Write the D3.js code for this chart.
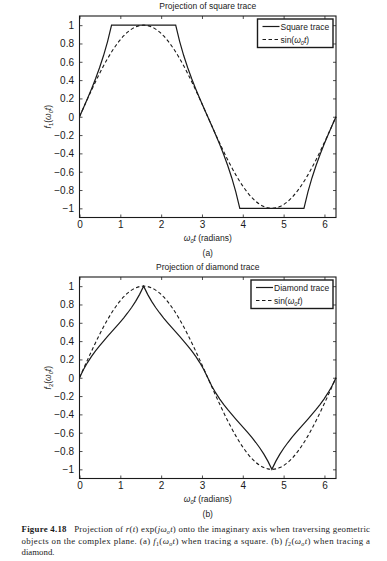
<!DOCTYPE html>
<html>
<head>
<meta charset="utf-8">
<script src="https://cdn.jsdelivr.net/npm/d3@7"></script>
<style>
  body { margin: 0; background: #fff; }
  svg { display: block; }
  text { fill: #1a1a1a; }
</style>
</head>
<body>
<div id="chart"></div>
<script>
// sample angles (radians), read along the x axis
const xGrid = [
  0, 0.0982, 0.1963, 0.2945, 0.3927, 0.4909, 0.589, 0.6872, 0.7854, 0.8836, 0.9817,
  1.0799, 1.1781, 1.2763, 1.3744, 1.4726, 1.5708, 1.669, 1.7671, 1.8653, 1.9635,
  2.0617, 2.1598, 2.258, 2.3562, 2.4544, 2.5525, 2.6507, 2.7489, 2.8471, 2.9452,
  3.0434, 3.1416, 3.2398, 3.3379, 3.4361, 3.5343, 3.6325, 3.7306, 3.8288, 3.927,
  4.0252, 4.1233, 4.2215, 4.3197, 4.4179, 4.516, 4.6142, 4.7124, 4.8106, 4.9087,
  5.0069, 5.1051, 5.2033, 5.3014, 5.3996, 5.4978, 5.596, 5.6941, 5.7923, 5.8905,
  5.9887, 6.0868, 6.185, 6.2832,
];

const squareTrace = [
  0, 0.0985, 0.1989, 0.3033, 0.4142, 0.5345, 0.6682, 0.8207, 1,
  1, 1, 1, 1, 1, 1, 1, 1, 1, 1, 1, 1, 1, 1, 1, 1,
  0.8207, 0.6682, 0.5345, 0.4142, 0.3033, 0.1989, 0.0985, 0,
  -0.0985, -0.1989, -0.3033, -0.4142, -0.5345, -0.6682, -0.8207, -1,
  -1, -1, -1, -1, -1, -1, -1, -1, -1, -1, -1, -1, -1, -1, -1, -1,
  -0.8207, -0.6682, -0.5345, -0.4142, -0.3033, -0.1989, -0.0985, 0,
];

const diamondTrace = [
  0, 0.0896, 0.1659, 0.2328, 0.2929, 0.3483, 0.4005, 0.4508, 0.5,
  0.5492, 0.5995, 0.6517, 0.7071, 0.7672, 0.8341, 0.9104, 1,
  0.9104, 0.8341, 0.7672, 0.7071, 0.6517, 0.5995, 0.5492, 0.5,
  0.4508, 0.4005, 0.3483, 0.2929, 0.2328, 0.1659, 0.0896, 0,
  -0.0896, -0.1659, -0.2328, -0.2929, -0.3483, -0.4005, -0.4508, -0.5,
  -0.5492, -0.5995, -0.6517, -0.7071, -0.7672, -0.8341, -0.9104, -1,
  -0.9104, -0.8341, -0.7672, -0.7071, -0.6517, -0.5995, -0.5492, -0.5,
  -0.4508, -0.4005, -0.3483, -0.2929, -0.2328, -0.1659, -0.0896, 0,
];

const sineRef = [
  0, 0.098, 0.1951, 0.2903, 0.3827, 0.4714, 0.5556, 0.6344, 0.7071,
  0.773, 0.8315, 0.8819, 0.9239, 0.9569, 0.9808, 0.9952, 1,
  0.9952, 0.9808, 0.9569, 0.9239, 0.8819, 0.8315, 0.773, 0.7071,
  0.6344, 0.5556, 0.4714, 0.3827, 0.2903, 0.1951, 0.098, 0,
  -0.098, -0.1951, -0.2903, -0.3827, -0.4714, -0.5556, -0.6344, -0.7071,
  -0.773, -0.8315, -0.8819, -0.9239, -0.9569, -0.9808, -0.9952, -1,
  -0.9952, -0.9808, -0.9569, -0.9239, -0.8819, -0.8315, -0.773, -0.7071,
  -0.6344, -0.5556, -0.4714, -0.3827, -0.2903, -0.1951, -0.098, 0,
];

const xTicks = [0, 1, 2, 3, 4, 5, 6];
const yTicks = [-1, -0.8, -0.6, -0.4, -0.2, 0, 0.2, 0.4, 0.6, 0.8, 1];

const width = 387;
const height = 561;
const left = 79.5;
const right = 336;
const plotHeight = 201.5;
const sansFont = "'Liberation Sans', Arial, sans-serif";
const serifFont = "'Liberation Serif', 'Times New Roman', serif";

const svg = d3
  .select("#chart")
  .append("svg")
  .attr("width", width)
  .attr("height", height);

const x = d3.scaleLinear().domain([0, 2 * Math.PI]).range([left, right]);

const panels = [
  {
    top: 16,
    title: "Projection of square trace",
    values: squareTrace,
    name: "Square trace",
    sub: "1",
    tag: "(a)",
    legendX: 257.5,
    legendW: 75.5,
  },
  {
    top: 277,
    title: "Projection of diamond trace",
    values: diamondTrace,
    name: "Diamond trace",
    sub: "2",
    tag: "(b)",
    legendX: 251,
    legendW: 82,
  },
];

panels.forEach(drawPanel);
drawCaption();

function drawPanel(p) {
  const bottom = p.top + plotHeight;
  const y = d3.scaleLinear().domain([-1.1, 1.1]).range([bottom, p.top]);
  const g = svg.append("g").attr("font-family", sansFont).attr("font-size", 8.5);

  // ticks on all four sides, pointing inward
  const bottomAxis = g
    .append("g")
    .attr("transform", `translate(0,${bottom})`)
    .call(d3.axisBottom(x).tickValues(xTicks).tickSizeInner(-3).tickSizeOuter(0).tickFormat(d3.format("d")));
  bottomAxis.selectAll("text").attr("y", 10.5).attr("dy", 0);

  g.append("g")
    .attr("transform", `translate(0,${p.top})`)
    .call(d3.axisTop(x).tickValues(xTicks).tickSizeInner(-3).tickSizeOuter(0).tickFormat(""));

  const leftAxis = g
    .append("g")
    .attr("transform", `translate(${left},0)`)
    .call(d3.axisLeft(y).tickValues(yTicks).tickSizeInner(-3).tickSizeOuter(0).tickFormat(d3.format("~g")));
  leftAxis.selectAll("text").attr("x", -5.5).attr("dy", "0.35em");

  g.append("g")
    .attr("transform", `translate(${right},0)`)
    .call(d3.axisRight(y).tickValues(yTicks).tickSizeInner(-3).tickSizeOuter(0).tickFormat(""));

  g.selectAll(".domain").remove();
  g.selectAll(".tick line").attr("stroke", "#222").attr("stroke-width", 0.8);
  g.selectAll(".tick text").attr("fill", "#1a1a1a");

  g.append("rect")
    .attr("x", left)
    .attr("y", p.top)
    .attr("width", right - left)
    .attr("height", plotHeight)
    .attr("fill", "none")
    .attr("stroke", "#1a1a1a")
    .attr("stroke-width", 1.1);

  const sineLine = d3
    .line()
    .x((d, i) => x(xGrid[i]))
    .y((d) => y(d))
    .curve(d3.curveCatmullRom);

  const traceLine = d3
    .line()
    .x((d, i) => x(xGrid[i]))
    .y((d) => y(d));

  g.append("path")
    .attr("d", sineLine(sineRef))
    .attr("fill", "none")
    .attr("stroke", "#1a1a1a")
    .attr("stroke-width", 1.1)
    .attr("stroke-dasharray", "3.5,2.5");

  g.append("path")
    .attr("d", traceLine(p.values))
    .attr("fill", "none")
    .attr("stroke", "#1a1a1a")
    .attr("stroke-width", 1.2);

  // title
  g.append("text")
    .attr("x", (left + right) / 2)
    .attr("y", p.top - 7)
    .attr("text-anchor", "middle")
    .text(p.title);

  // x label
  const xl = g
    .append("text")
    .attr("x", (left + right) / 2)
    .attr("y", bottom + 23.5)
    .attr("text-anchor", "middle");
  addOmegaT(xl, "0");
  xl.append("tspan").text(" (radians)");

  g.append("text")
    .attr("x", (left + right) / 2)
    .attr("y", bottom + 38.5)
    .attr("text-anchor", "middle")
    .text(p.tag);

  // y label
  const yl = g
    .append("text")
    .attr("transform", `translate(50.5,${(p.top + bottom) / 2}) rotate(-90)`)
    .attr("text-anchor", "middle");
  yl.append("tspan").attr("font-style", "italic").text("f");
  yl.append("tspan").attr("font-size", 6).attr("dy", 2).text(p.sub);
  yl.append("tspan").attr("dy", -2).text("(");
  addOmegaT(yl, "0");
  yl.append("tspan").text(")");

  // legend
  const ly = p.top + (p.top < 100 ? 3 : 3);
  const legend = g.append("g").attr("transform", `translate(${p.legendX},${ly})`);
  legend
    .append("rect")
    .attr("width", p.legendW)
    .attr("height", 28.5)
    .attr("fill", "#fff")
    .attr("stroke", "#1a1a1a")
    .attr("stroke-width", 1.4);

  legend
    .append("line")
    .attr("x1", 5)
    .attr("x2", 22)
    .attr("y1", 7.5)
    .attr("y2", 7.5)
    .attr("stroke", "#1a1a1a")
    .attr("stroke-width", 1.2);
  legend.append("text").attr("x", 23).attr("y", 10.6).text(p.name);

  legend
    .append("line")
    .attr("x1", 5)
    .attr("x2", 22)
    .attr("y1", 20.5)
    .attr("y2", 20.5)
    .attr("stroke", "#1a1a1a")
    .attr("stroke-width", 1.1)
    .attr("stroke-dasharray", "3.5,2.5");
  const sl = legend.append("text").attr("x", 23).attr("y", 23.6);
  sl.append("tspan").text("sin(");
  addOmegaT(sl, "0");
  sl.append("tspan").text(")");
}

function addOmegaT(textSel, sub) {
  textSel.append("tspan").attr("font-style", "italic").text("ω");
  textSel.append("tspan").attr("font-size", 5.5).attr("font-style", "italic").attr("dy", 2).text(sub);
  textSel.append("tspan").attr("font-style", "italic").attr("dy", -2).text("t");
}

function drawCaption() {
  const g = svg.append("g").attr("font-family", serifFont).attr("font-size", 8.8);
  const lineX = 21.5;
  const lineEnd = 370;

  const l1 = g.append("text").attr("x", lineX).attr("y", 532).attr("textLength", lineEnd - lineX).attr("lengthAdjust", "spacing");
  l1.append("tspan").attr("font-weight", "bold").text("Figure 4.18");
  l1.append("tspan").attr("xml:space", "preserve").text("\u00a0\u00a0\u00a0Projection of ");
  l1.append("tspan").attr("font-style", "italic").text("r");
  l1.append("tspan").text("(");
  l1.append("tspan").attr("font-style", "italic").text("t");
  l1.append("tspan").text(") exp(");
  l1.append("tspan").attr("font-style", "italic").text("jω");
  l1.append("tspan").attr("font-style", "italic").attr("font-size", 6).attr("dy", 2).text("o");
  l1.append("tspan").attr("font-style", "italic").attr("dy", -2).text("t");
  l1.append("tspan").text(") onto the imaginary axis when traversing geometric");

  const l2 = g.append("text").attr("x", lineX).attr("y", 543.5).attr("textLength", lineEnd - lineX).attr("lengthAdjust", "spacing");
  l2.append("tspan").text("objects on the complex plane. (a) ");
  l2.append("tspan").attr("font-style", "italic").text("f");
  l2.append("tspan").attr("font-size", 6).attr("dy", 2).text("1");
  l2.append("tspan").attr("dy", -2).text("(");
  l2.append("tspan").attr("font-style", "italic").text("ω");
  l2.append("tspan").attr("font-style", "italic").attr("font-size", 6).attr("dy", 2).text("o");
  l2.append("tspan").attr("font-style", "italic").attr("dy", -2).text("t");
  l2.append("tspan").text(") when tracing a square. (b) ");
  l2.append("tspan").attr("font-style", "italic").text("f");
  l2.append("tspan").attr("font-size", 6).attr("dy", 2).text("2");
  l2.append("tspan").attr("dy", -2).text("(");
  l2.append("tspan").attr("font-style", "italic").text("ω");
  l2.append("tspan").attr("font-style", "italic").attr("font-size", 6).attr("dy", 2).text("o");
  l2.append("tspan").attr("font-style", "italic").attr("dy", -2).text("t");
  l2.append("tspan").text(") when tracing a");

  g.append("text").attr("x", lineX).attr("y", 555).text("diamond.");
}
</script>
</body>
</html>
